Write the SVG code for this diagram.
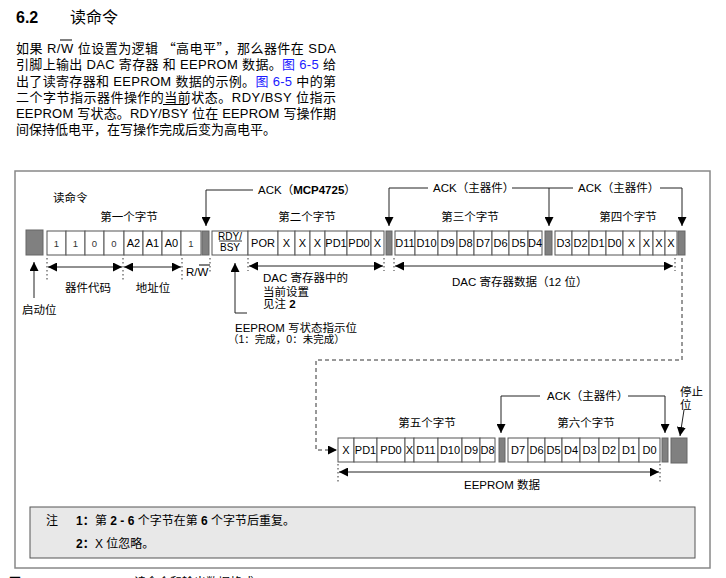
<svg xmlns="http://www.w3.org/2000/svg" width="726" height="578" viewBox="0 0 726 578">
<defs>
<style>
.t{font-family:"Liberation Sans","Noto Sans CJK SC",sans-serif;fill:#000}
.cjk{font-family:"Noto Sans CJK SC",sans-serif}
.p{font-size:13px}
.s{font-size:11.5px}
.c{font-size:11px;text-anchor:middle}
.n{font-size:9.5px;text-anchor:middle;fill:#333}
.m{text-anchor:middle}
.b{font-weight:bold}
.cell{fill:#fff;stroke:#555;stroke-width:1}
.gb{fill:#808080;stroke:#666;stroke-width:1}
.ln{fill:none;stroke:#222;stroke-width:1}
.dot{fill:none;stroke:#333;stroke-width:1;stroke-dasharray:1.5 2.5}
.dash{fill:none;stroke:#333;stroke-width:1;stroke-dasharray:4 3}
.blue{fill:#1a1aff}
</style>
<marker id="ah" viewBox="0 0 10 10" refX="10" refY="5" markerWidth="9" markerHeight="9" markerUnits="userSpaceOnUse" orient="auto-start-reverse">
<path d="M0,0 L10,5 L0,10 z" fill="#000"/>
</marker>
</defs>
<rect width="726" height="578" fill="#fff"/>

<g id="heading">
<text class="t b" x="16" y="23" font-size="16">6.2</text>
<text class="t" x="70" y="23" font-size="16">读命令</text>
</g>

<g id="paragraph">
<text class="t p" x="16" y="53" textLength="320" lengthAdjust="spacing">如果 R/W 位设置为逻辑 <tspan class="cjk">“</tspan>高电平<tspan class="cjk">”</tspan>，那么器件在 SDA</text>
<line x1="60" y1="40" x2="72" y2="40" stroke="#000" stroke-width="1"/>
<text class="t p" x="16" y="69" textLength="320" lengthAdjust="spacing">引脚上输出 DAC 寄存器 和 EEPROM 数据。<tspan class="blue">图 6-5</tspan> 给</text>
<text class="t p" x="16" y="86" textLength="320" lengthAdjust="spacing">出了读寄存器和 EEPROM 数据的示例。<tspan class="blue">图 6-5</tspan> 中的第</text>
<text class="t p" x="16" y="102" textLength="320" lengthAdjust="spacing">二个字节指示器件操作的当前状态。RDY/BSY 位指示</text>
<line x1="163" y1="104.5" x2="188" y2="104.5" stroke="#000" stroke-width="1"/>
<text class="t p" x="16" y="118" textLength="320" lengthAdjust="spacing">EEPROM 写状态。RDY/BSY 位在 EEPROM 写操作期</text>
<text class="t p" x="16" y="134">间保持低电平，在写操作完成后变为高电平。</text>
</g>

<rect id="frame" x="15" y="171" width="695" height="397" fill="none" stroke="#888" stroke-width="1.5"/>

<g id="labels">
<text class="t s" x="53" y="202">读命令</text>
<text class="t s m" x="129" y="221">第一个字节</text>
<text class="t s m" x="307" y="221">第二个字节</text>
<text class="t s m" x="470" y="221">第三个字节</text>
<text class="t s m" x="628" y="221">第四个字节</text>
<text class="t s m" x="427" y="427">第五个字节</text>
<text class="t s m" x="586" y="427">第六个字节</text>
</g>

<g id="start-bit">
<rect class="gb" x="26" y="230" width="17" height="25"/>
<text class="t s" x="22" y="314">启动位</text>
</g>

<g id="byte1">
<rect class="cell" x="47" y="231" width="19" height="24"/>
<rect class="cell" x="66" y="231" width="19" height="24"/>
<rect class="cell" x="85" y="231" width="19" height="24"/>
<rect class="cell" x="104" y="231" width="20" height="24"/>
<rect class="cell" x="124" y="231" width="19" height="24"/>
<rect class="cell" x="143" y="231" width="19" height="24"/>
<rect class="cell" x="162" y="231" width="19" height="24"/>
<rect class="cell" x="181" y="231" width="20" height="24"/>
<text class="t n" x="56.5" y="246.5">1</text>
<text class="t n" x="75.5" y="246.5">1</text>
<text class="t n" x="94.5" y="246.5">0</text>
<text class="t n" x="114" y="246.5">0</text>
<text class="t c" x="133.5" y="247">A2</text>
<text class="t c" x="152.5" y="247">A1</text>
<text class="t c" x="171.5" y="247">A0</text>
<text class="t n" x="191" y="246.5">1</text>
</g>

<g id="ack1"><rect class="gb" x="202" y="231" width="7" height="24"/></g>

<g id="byte2">
<rect class="cell" x="212" y="231" width="36" height="24"/>
<rect class="cell" x="248" y="231" width="30" height="24"/>
<rect class="cell" x="278" y="231" width="17" height="24"/>
<rect class="cell" x="295" y="231" width="15" height="24"/>
<rect class="cell" x="310" y="231" width="15" height="24"/>
<rect class="cell" x="325" y="231" width="22" height="24"/>
<rect class="cell" x="347" y="231" width="24" height="24"/>
<rect class="cell" x="371" y="231" width="13" height="24"/>
<text class="t m" x="230" y="239.5" font-size="10">RDY/</text>
<line x1="219" y1="241" x2="242" y2="241" stroke="#000" stroke-width="0.8"/>
<text class="t m" x="230" y="250.5" font-size="10">BSY</text>
<text class="t c" x="263" y="247">POR</text>
<text class="t c" x="286.5" y="247">X</text>
<text class="t c" x="302.5" y="247">X</text>
<text class="t c" x="317.5" y="247">X</text>
<text class="t c" x="336" y="247">PD1</text>
<text class="t c" x="359" y="247">PD0</text>
<text class="t c" x="377.5" y="247">X</text>
</g>

<g id="ack2"><rect class="gb" x="386" y="231" width="6" height="24"/></g>

<g id="byte3">
<rect class="cell" x="395" y="231" width="20" height="24"/>
<rect class="cell" x="415" y="231" width="23" height="24"/>
<rect class="cell" x="438" y="231" width="19" height="24"/>
<rect class="cell" x="457" y="231" width="17" height="24"/>
<rect class="cell" x="474" y="231" width="18" height="24"/>
<rect class="cell" x="492" y="231" width="17" height="24"/>
<rect class="cell" x="509" y="231" width="19" height="24"/>
<rect class="cell" x="528" y="231" width="14" height="24"/>
<text class="t c" x="405" y="247">D11</text>
<text class="t c" x="426.5" y="247">D10</text>
<text class="t c" x="447.5" y="247">D9</text>
<text class="t c" x="465.5" y="247">D8</text>
<text class="t c" x="483" y="247">D7</text>
<text class="t c" x="500.5" y="247">D6</text>
<text class="t c" x="518.5" y="247">D5</text>
<text class="t c" x="535" y="247">D4</text>
</g>

<g id="ack3"><rect class="gb" x="545" y="231" width="7" height="24"/></g>

<g id="byte4">
<rect class="cell" x="555" y="231" width="17" height="24"/>
<rect class="cell" x="572" y="231" width="17" height="24"/>
<rect class="cell" x="589" y="231" width="17" height="24"/>
<rect class="cell" x="606" y="231" width="17" height="24"/>
<rect class="cell" x="623" y="231" width="17" height="24"/>
<rect class="cell" x="640" y="231" width="13" height="24"/>
<rect class="cell" x="653" y="231" width="12" height="24"/>
<rect class="cell" x="665" y="231" width="12" height="24"/>
<text class="t c" x="563.5" y="247">D3</text>
<text class="t c" x="580.5" y="247">D2</text>
<text class="t c" x="597.5" y="247">D1</text>
<text class="t c" x="614.5" y="247">D0</text>
<text class="t c" x="631.5" y="247">X</text>
<text class="t c" x="646.5" y="247">X</text>
<text class="t c" x="659" y="247">X</text>
<text class="t c" x="671" y="247">X</text>
</g>

<g id="ack4"><rect class="gb" x="678" y="231" width="7" height="24"/></g>

<g id="byte5">
<rect class="cell" x="338" y="438" width="16" height="24"/>
<rect class="cell" x="354" y="438" width="23" height="24"/>
<rect class="cell" x="377" y="438" width="28" height="24"/>
<rect class="cell" x="405" y="438" width="9" height="24"/>
<rect class="cell" x="414" y="438" width="24" height="24"/>
<rect class="cell" x="438" y="438" width="24" height="24"/>
<rect class="cell" x="462" y="438" width="18" height="24"/>
<rect class="cell" x="480" y="438" width="15" height="24"/>
<text class="t c" x="346" y="454">X</text>
<text class="t c" x="365.5" y="454">PD1</text>
<text class="t c" x="391" y="454">PD0</text>
<text class="t c" x="409.5" y="454">X</text>
<text class="t c" x="426" y="454">D11</text>
<text class="t c" x="450" y="454">D10</text>
<text class="t c" x="471" y="454">D9</text>
<text class="t c" x="487.5" y="454">D8</text>
</g>

<g id="ack5"><rect class="gb" x="499" y="438" width="6" height="24"/></g>

<g id="byte6">
<rect class="cell" x="508" y="438" width="20" height="24"/>
<rect class="cell" x="528" y="438" width="17" height="24"/>
<rect class="cell" x="545" y="438" width="17" height="24"/>
<rect class="cell" x="562" y="438" width="18" height="24"/>
<rect class="cell" x="580" y="438" width="19" height="24"/>
<rect class="cell" x="599" y="438" width="20" height="24"/>
<rect class="cell" x="619" y="438" width="20" height="24"/>
<rect class="cell" x="639" y="438" width="21" height="24"/>
<text class="t c" x="518" y="454">D7</text>
<text class="t c" x="536.5" y="454">D6</text>
<text class="t c" x="553.5" y="454">D5</text>
<text class="t c" x="571" y="454">D4</text>
<text class="t c" x="589.5" y="454">D3</text>
<text class="t c" x="609" y="454">D2</text>
<text class="t c" x="629" y="454">D1</text>
<text class="t c" x="649.5" y="454">D0</text>
</g>

<g id="ack6"><rect class="gb" x="662" y="438" width="6" height="24"/></g>

<g id="stop-bit">
<rect class="gb" x="671" y="438" width="16" height="25"/>
<text class="t s" x="680" y="396">停止</text>
<text class="t s" x="680" y="409">位</text>
</g>

<g id="connectors">
<path class="ln" d="M253,190 H206 V226" marker-end="url(#ah)"/>
<path class="ln" d="M428,188 H389 V226" marker-end="url(#ah)"/>
<path class="ln" d="M512,188 H549 V226" marker-end="url(#ah)"/>
<path class="ln" d="M549,188 H573"/>
<path class="ln" d="M660,188 H682 V226" marker-end="url(#ah)"/>
<path class="ln" d="M540,396 H501 V433" marker-end="url(#ah)"/>
<path class="ln" d="M628,396 H665 V433" marker-end="url(#ah)"/>
<path class="ln" d="M684,410 L680,436" marker-end="url(#ah)"/>
<path class="ln" d="M34,298 V262" marker-end="url(#ah)"/>
<path class="ln" d="M247,313 H235 V263" marker-end="url(#ah)"/>
<path class="dash" d="M682,258 V360 H316 V450 H337" marker-end="url(#ah)"/>
<path class="dot" d="M47,258 V281 M123,258 V281 M182,258 V281 M210,258 V273 M248,258 V271 M384,258 V271 M394,258 V271 M675,258 V271"/>
<path class="ln" d="M48,267 H122" marker-start="url(#ah)" marker-end="url(#ah)"/>
<path class="ln" d="M124,267 H181" marker-start="url(#ah)" marker-end="url(#ah)"/>
<path class="ln" d="M249,266 H383" marker-start="url(#ah)" marker-end="url(#ah)"/>
<path class="ln" d="M395,266 H673" marker-start="url(#ah)" marker-end="url(#ah)"/>
<path class="dot" d="M338,464 V482 M660,464 V482"/>
<path class="ln" d="M339,472 H659" marker-start="url(#ah)" marker-end="url(#ah)"/>
</g>

<g id="connector-labels">
<text class="t s" x="258" y="194">ACK（<tspan class="b">MCP4725</tspan>）</text>
<text class="t s" x="433" y="192">ACK（主器件）</text>
<text class="t s" x="578" y="192">ACK（主器件）</text>
<text class="t s" x="547" y="400">ACK（主器件）</text>
<text class="t s m" x="88" y="292">器件代码</text>
<text class="t s m" x="153" y="292">地址位</text>
<text class="t s" x="186" y="276">R/W</text>
<line x1="199" y1="265" x2="210" y2="265" stroke="#000" stroke-width="1"/>
<text class="t s" x="263" y="282">DAC 寄存器中的</text>
<text class="t s" x="263" y="296">当前设置</text>
<text class="t s" x="263" y="308">见注 <tspan class="b">2</tspan></text>
<text class="t s" x="235" y="332" font-size="12">EEPROM 写状态指示位</text>
<text class="t" x="228" y="343" font-size="10.5">（1：完成，0：未完成）</text>
<text class="t s" x="452" y="286">DAC 寄存器数据（12 位）</text>
<text class="t s m" x="502" y="489">EEPROM 数据</text>
</g>

<g id="notes">
<rect x="30" y="507" width="665" height="51" fill="#e8e8e8" stroke="#555" stroke-width="1"/>
<text class="t" x="46" y="525" font-size="12">注</text>
<text class="t b" x="76" y="525" font-size="12">1：</text>
<text class="t" x="95" y="525" font-size="12">第 <tspan class="b">2 - 6</tspan> 个字节在第 <tspan class="b">6</tspan> 个字节后重复。</text>
<text class="t b" x="76" y="548" font-size="12">2：</text>
<text class="t" x="95" y="548" font-size="12">X 位忽略。</text>
</g>

<g id="caption">
<text class="t b" x="9" y="587" font-size="12">图 6-5</text>
<text class="t" x="134" y="587" font-size="12">读命令和输出数据格式</text>
</g>
</svg>
